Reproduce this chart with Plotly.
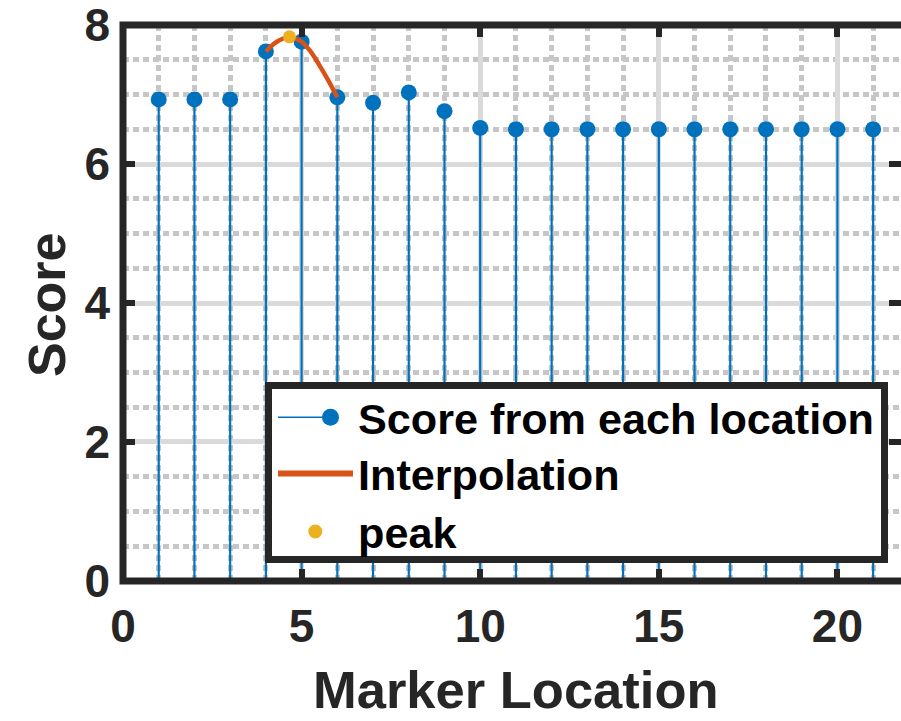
import plotly.graph_objects as go

# ---- data ----
locations = list(range(1, 22))
scores = [6.93, 6.93, 6.93, 7.62, 7.76, 6.96, 6.88, 7.03, 6.76, 6.52,
          6.50, 6.50, 6.50, 6.50, 6.50, 6.50, 6.50, 6.50, 6.50, 6.50, 6.50]
interp_x = [4.0, 4.25, 4.5, 4.66, 4.75, 5.0, 5.25, 5.5, 5.75, 6.0]
interp_y = [7.62, 7.74, 7.81, 7.83, 7.82, 7.76, 7.62, 7.42, 7.20, 6.96]
peak_x = [4.66]
peak_y = [7.83]
x_ticks = [0, 5, 10, 15, 20]
y_ticks = [0, 2, 4, 6, 8]

BLUE = "#0072BD"
ORANGE = "#D95319"
YELLOW = "#EDB120"
INK = "#262626"
FONT = "Liberation Sans, Arial, Helvetica, sans-serif"

W, H = 901, 721
ML, MR, MT, MB = 123, 0, 25, 140
PW, PH = W - ML - MR, H - MT - MB


def px(xp):
    return (xp - ML) / PW


def py(yp):
    return (H - MB - yp) / PH


# stems: vertical segments from 0 up to each score
stem_x, stem_y = [], []
for loc, s in zip(locations, scores):
    stem_x += [loc, loc, None]
    stem_y += [0, s, None]

fig = go.Figure()
fig.add_trace(go.Scatter(x=stem_x, y=stem_y, mode="lines",
                         line=dict(color=BLUE, width=2.2),
                         hoverinfo="skip", showlegend=False))
fig.add_trace(go.Scatter(x=locations, y=scores, mode="markers",
                         marker=dict(color=BLUE, size=16),
                         name="Score from each location", showlegend=False))
fig.add_trace(go.Scatter(x=interp_x, y=interp_y, mode="lines",
                         line=dict(color=ORANGE, width=4.5, shape="spline"),
                         name="Interpolation", showlegend=False))
fig.add_trace(go.Scatter(x=peak_x, y=peak_y, mode="markers",
                         marker=dict(color=YELLOW, size=13),
                         name="peak", showlegend=False))

axis_common = dict(
    showline=False, zeroline=False,
    ticks="inside", ticklen=12, tickwidth=6, tickcolor=INK,
    tickfont=dict(family=FONT, size=46, color=INK, weight="bold"),
    ticklabeloverflow="allow",
    showgrid=True, gridcolor="#dadada", gridwidth=5,
    mirror="ticks",
)

fig.update_xaxes(range=[0, 21.78], tickvals=x_ticks, ticktext=[str(v) for v in x_ticks],
                 minor=dict(dtick=1, tick0=0, showgrid=True, gridcolor="#c6c6c6",
                            gridwidth=5, griddash="6px,4px", ticks=""),
                 ticklabelstandoff=14, **axis_common)
fig.update_yaxes(range=[-0.0005, 8.0005], tickvals=y_ticks, ticktext=[str(v) for v in y_ticks],
                 minor=dict(dtick=0.5, tick0=0, showgrid=True, gridcolor="#c6c6c6",
                            gridwidth=5, griddash="6px,4px", ticks=""),
                 ticklabelstandoff=12, **axis_common)

shapes = []
# axes box (left, bottom, top); right edge lies beyond the page
shapes.append(dict(type="rect", xref="paper", yref="paper", x0=0, x1=1.03, y0=0, y1=1,
                   line=dict(color=INK, width=7), layer="above"))

# legend box
shapes.append(dict(type="rect", xref="paper", yref="paper",
                   x0=px(268.5), x1=px(884.5), y0=py(559.5), y1=py(385.5),
                   line=dict(color=INK, width=7), fillcolor="white", layer="above"))
# legend symbols
row_y = [417.3, 473.5, 531.5]
shapes.append(dict(type="line", xref="paper", yref="paper",
                   x0=px(278), x1=px(330), y0=py(row_y[0]), y1=py(row_y[0]),
                   line=dict(color=BLUE, width=1.6), layer="above"))
shapes.append(dict(type="circle", xref="paper", yref="paper", xsizemode="pixel",
                   ysizemode="pixel", xanchor=px(330.5), yanchor=py(row_y[0]),
                   x0=-8.5, x1=8.5, y0=-8.5, y1=8.5,
                   fillcolor=BLUE, line=dict(width=0), layer="above"))
shapes.append(dict(type="line", xref="paper", yref="paper",
                   x0=px(278), x1=px(353), y0=py(row_y[1]), y1=py(row_y[1]),
                   line=dict(color=ORANGE, width=6), layer="above"))
shapes.append(dict(type="circle", xref="paper", yref="paper", xsizemode="pixel",
                   ysizemode="pixel", xanchor=px(315.3), yanchor=py(row_y[2]),
                   x0=-7, x1=7, y0=-7, y1=7,
                   fillcolor=YELLOW, line=dict(width=0), layer="above"))

legend_labels = ["Score from each location", "Interpolation", "peak"]
text_y = [419, 474.7, 532.5]
annotations = []
for lab, ty in zip(legend_labels, text_y):
    annotations.append(dict(text=lab, xref="paper", yref="paper", x=px(356), y=py(ty),
                            xanchor="left", yanchor="middle", showarrow=False,
                            font=dict(family=FONT, size=43.2, color="black", weight="bold")))

# axis titles
annotations.append(dict(text="Marker Location", xref="paper", yref="paper",
                        x=px(515.5), y=py(720), xanchor="center", yanchor="bottom",
                        showarrow=False, borderpad=0,
                        font=dict(family=FONT, size=52.5, color=INK, weight="bold")))
annotations.append(dict(text="Score", xref="paper", yref="paper",
                        x=px(47), y=py(305), xanchor="center", yanchor="middle",
                        textangle=-90, showarrow=False,
                        font=dict(family=FONT, size=52, color=INK, weight="bold")))

fig.update_layout(
    width=W, height=H,
    margin=dict(l=ML, r=MR, t=MT, b=MB, autoexpand=False),
    paper_bgcolor="white", plot_bgcolor="white",
    shapes=shapes, annotations=annotations,
    showlegend=False,
)

fig.write_html("out.html")
